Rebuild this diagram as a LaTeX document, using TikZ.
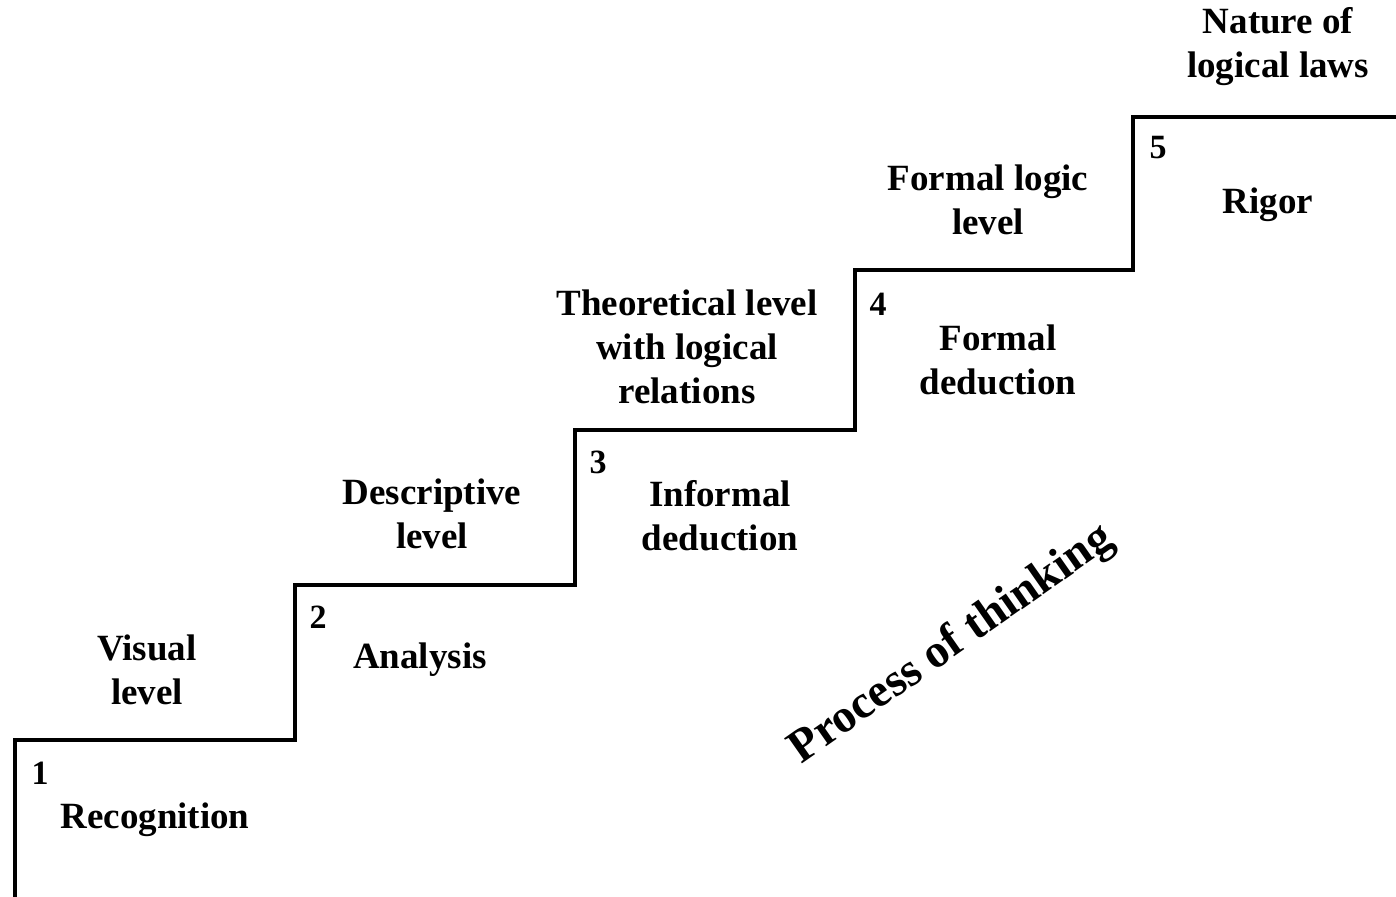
\documentclass[tikz,border=0pt]{standalone}
\usepackage{fontspec}
\setmainfont{Liberation Serif}
\begin{document}
\begin{tikzpicture}[x=1pt,y=-1pt,
  lbl/.style={font=\fontsize{37}{44}\selectfont\bfseries, align=center, inner sep=0pt},
  num/.style={font=\fontsize{34}{40}\selectfont\bfseries, inner sep=0pt},
  stair/.style={line width=4pt, line join=miter}]
\useasboundingbox (0,0) rectangle (1396,896);
\draw[stair] (15,900) -- (15,740) -- (295,740) -- (295,585) -- (575,585) -- (575,430) -- (855,430) -- (855,270) -- (1133,270) -- (1133,117) -- (1400,117);
% level 1
\node[num] (n1) at (40,773) {1};
\node[lbl] (rec) at (155,820) {Recognition};
\node[lbl] (vis) at (147,670) {Visual\\level};
% level 2
\node[num] (n2) at (318,617) {2};
\node[lbl] (ana) at (420,660) {Analysis};
\node[lbl] (des) at (432,514) {Descriptive\\level};
% level 3
\node[num] (n3) at (598,462) {3};
\node[lbl] (inf) at (720,516) {Informal\\deduction};
\node[lbl] (the) at (687,347) {Theoretical level\\with logical\\relations};
% level 4
\node[num] (n4) at (878,304) {4};
\node[lbl] (fded) at (998,360) {Formal\\deduction};
\node[lbl] (flog) at (988,200) {Formal logic\\level};
% level 5
\node[num] (n5) at (1158,148) {5};
\node[lbl] (rig) at (1268,205) {Rigor};
\node[lbl] (nat) at (1278,47) {Nature of\\logical laws};
% process
\node[font=\fontsize{47}{52}\selectfont\bfseries, rotate=35, inner sep=0pt] (proc) at (952,645) {Process of thinking};
\end{tikzpicture}
\end{document}
